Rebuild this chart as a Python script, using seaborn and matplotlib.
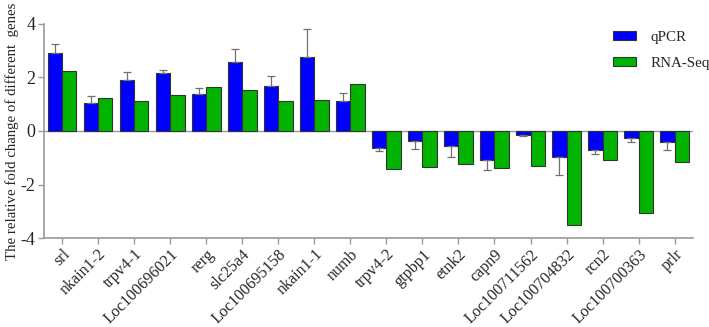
import numpy as np
import pandas as pd
import matplotlib
matplotlib.use("Agg")
import matplotlib.pyplot as plt
import seaborn as sns

# Data
genes = ["srl", "nkain1-2", "trpv4-1", "Loc100696021", "rerg", "slc25a4",
         "Loc100695158", "nkain1-1", "numb", "trpv4-2", "gtpbp1", "etnk2",
         "capn9", "Loc100711562", "Loc100704832", "rcn2", "Loc100700363", "prlr"]
qpcr = [2.93, 1.06, 1.89, 2.15, 1.39, 2.56, 1.68, 2.76, 1.11,
        -0.63, -0.39, -0.58, -1.09, -0.14, -0.98, -0.70, -0.25, -0.42]
qpcr_err = [0.33, 0.24, 0.33, 0.14, 0.22, 0.52, 0.36, 1.03, 0.29,
            0.12, 0.29, 0.39, 0.35, 0.06, 0.68, 0.17, 0.18, 0.30]
rnaseq = [2.25, 1.22, 1.12, 1.34, 1.63, 1.54, 1.13, 1.16, 1.75,
          -1.43, -1.33, -1.24, -1.40, -1.32, -3.53, -1.08, -3.07, -1.17]
series = ["qPCR", "RNA-Seq"]
yticks = [-4, -2, 0, 2, 4]

df = pd.DataFrame({
    "gene": genes * 2,
    "value": qpcr + rnaseq,
    "method": [series[0]] * len(genes) + [series[1]] * len(genes),
})

sns.set_style("white")
plt.rcParams["font.family"] = ["Liberation Serif", "DejaVu Serif"]

fig = plt.figure(figsize=(7.09, 3.27), dpi=100)
ax = fig.add_axes([0.062, 0.272, 0.915, 0.655])

sns.barplot(data=df, x="gene", y="value", hue="method", order=genes,
            hue_order=series, palette=["#0000ff", "#00b400"], saturation=1,
            edgecolor="#333333", linewidth=0.8, errorbar=None, ax=ax)

# one-sided error bars on the qPCR bars
vals = np.array(qpcr)
errs = np.array(qpcr_err)
lower = np.where(vals < 0, errs, 0)
upper = np.where(vals >= 0, errs, 0)
xs = [p.get_x() + p.get_width() / 2 for p in ax.containers[0]]
ax.errorbar(xs, vals, yerr=[lower, upper], fmt="none", ecolor="#707070",
            elinewidth=0.9, capsize=3, capthick=0.9, zorder=1)

ax.axhline(0, color="#999999", lw=1.0, zorder=0)
ax.set_xlim(-0.5, len(genes) - 0.5)
ax.set_ylim(-4, 4)
ax.set_yticks(yticks)
ax.set_yticklabels([str(t) for t in yticks], fontsize=13)
ax.set_xticks(range(len(genes)))
ax.set_xticklabels(genes, rotation=45, ha="right", rotation_mode="anchor",
                   fontsize=11.6)
ax.set_xlabel("")
ax.set_ylabel("The relative fold change of different  genes", fontsize=10.7,
              labelpad=1)

for side in ["top", "right"]:
    ax.spines[side].set_visible(False)
for side in ["left", "bottom"]:
    ax.spines[side].set_color("#999999")
    ax.spines[side].set_linewidth(1.2)
ax.tick_params(axis="both", length=4, width=1, color="#999999", pad=2,
               left=True, bottom=True)

ax.legend(loc="upper right", bbox_to_anchor=(1.047, 1.03), frameon=False,
          fontsize=10.8, handlelength=1.55, handleheight=0.55,
          labelspacing=0.85, handletextpad=0.95)

fig.savefig("out.png", dpi=100)
